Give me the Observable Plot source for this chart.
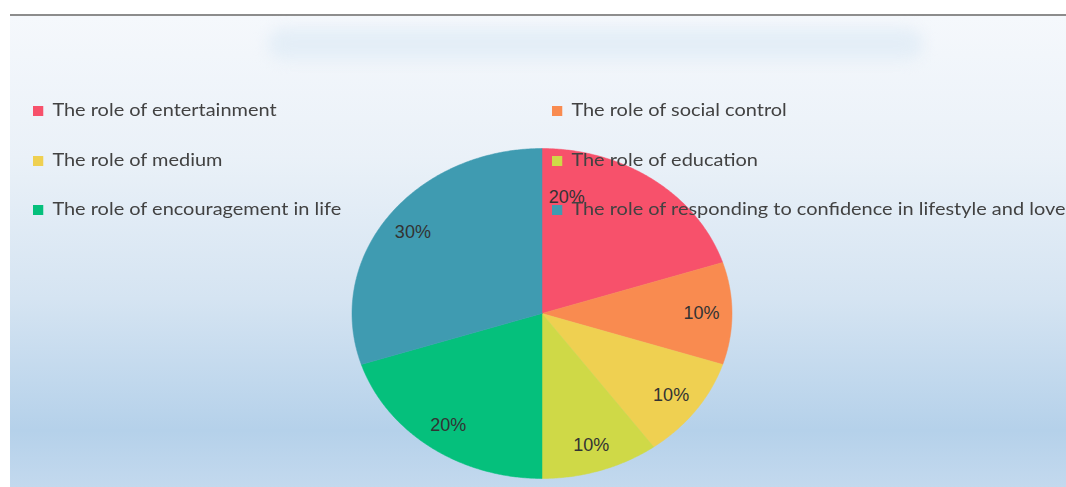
<!DOCTYPE html>
<html>
<head>
<meta charset="utf-8">
<script src="https://cdn.jsdelivr.net/npm/d3@7"></script>
<script src="https://cdn.jsdelivr.net/npm/@observablehq/plot@0.6"></script>
<style>
  html, body { margin: 0; padding: 0; background: #fff; }
  #wrap { position: relative; width: 1066px; height: 487px; overflow: hidden; background: #fff; }
  #bg { position: absolute; left: 10px; top: 14px; right: 0; bottom: 0;
        background: linear-gradient(to bottom, #f5f8fc 0%, #eaf1f8 30%, #d5e4f2 60%, #b5d1ea 88%, #c3d9ee 100%);
        border-top: 2px solid #8c8c8c; }
  #blur { position: absolute; left: 268px; top: 28px; width: 655px; height: 32px; border-radius: 20px;
          background: #e4eef7; filter: blur(7px); }
  #chart { position: absolute; left: 0; top: 0; }
  .leg { position: absolute; font-family: Lato, sans-serif; font-size: 17.5px; color: #424242; white-space: nowrap; line-height: 20px;
         transform: scaleX(1.14); transform-origin: 0 50%; }
  .leg span.sw { display: inline-block; width: 9px; height: 10px; margin-right: 8px; vertical-align: 0px; }
</style>
</head>
<body>
<div id="wrap">
  <div id="bg"></div>
  <div id="blur"></div>
  <div id="chart"></div>
  <div id="legend"></div>
</div>
<script>
const categories = [
  "The role of entertainment",
  "The role of social control",
  "The role of medium",
  "The role of education",
  "The role of encouragement in life",
  "The role of responding to confidence in lifestyle and love"
];
const values = [20, 10, 10, 10, 20, 30];
const colors = ["#f7516b", "#f98b50", "#efd051", "#cfd947", "#05c07c", "#3f9bb1"];
const labels = ["20%", "10%", "10%", "10%", "20%", "30%"];

const arcs = d3.pie().sort(null).value(d => d.value)(categories.map((c, i) => ({category: c, value: values[i], color: colors[i], label: labels[i]})));

function slicePoints(a) {
  const pts = [{x: 0, y: 0}];
  const n = Math.max(8, Math.ceil((a.endAngle - a.startAngle) / 0.01));
  for (let k = 0; k <= n; k++) {
    const t = a.startAngle + (a.endAngle - a.startAngle) * k / n;
    pts.push({x: Math.sin(t), y: Math.cos(t)});
  }
  pts.push({x: 0, y: 0});
  return pts;
}

const labelR = 0.84;
const labelData = arcs.map(a => {
  const m = (a.startAngle + a.endAngle) / 2;
  return {x: labelR * Math.sin(m), y: labelR * Math.cos(m), text: a.data.label};
});

const labelFont = "Liberation Sans, Arial, sans-serif";
const marks = arcs.map(a => Plot.line(slicePoints(a), {x: "x", y: "y", fill: a.data.color, stroke: a.data.color, strokeWidth: 0.5}));
marks.push(Plot.text(labelData.slice(1), {x: "x", y: "y", text: "text", fontSize: 18, fill: "#333", fontFamily: labelFont}));
marks.push(Plot.text(labelData.slice(0, 1), {x: "x", y: "y", text: "text", dx: -69, dy: -4, fontSize: 18, fill: "#333", fontFamily: labelFont}));

const plot = Plot.plot({
  width: 1066,
  height: 487,
  margin: 0,
  style: {background: "transparent", overflow: "visible"},
  x: {domain: [-1, 1], range: [351.5, 731.5], axis: null},
  y: {domain: [-1, 1], range: [478, 148], axis: null},
  marks
});
document.getElementById("chart").appendChild(plot);

// legend (overlaid on the chart, two columns)
const legend = document.getElementById("legend");
const colX = [33, 552];
const rowY = [100, 150, 199];
categories.forEach((c, i) => {
  const d = document.createElement("div");
  d.className = "leg";
  d.style.left = colX[i % 2] + "px";
  d.style.top = rowY[Math.floor(i / 2)] + "px";
  d.innerHTML = `<span class="sw" style="background:${colors[i]}"></span>${c}`;
  legend.appendChild(d);
});
</script>
</body>
</html>
